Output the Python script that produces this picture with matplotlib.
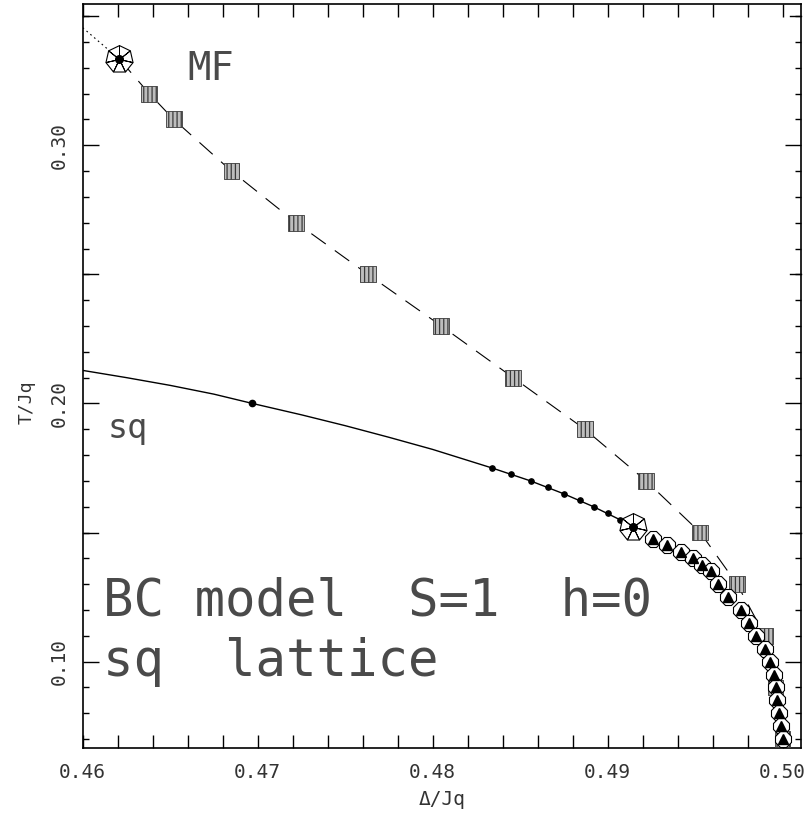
import numpy as np
from matplotlib import pyplot as plt
from matplotlib.ticker import MultipleLocator, FixedLocator

plt.rcParams['font.family'] = ['DejaVu Sans Mono', 'DejaVu Sans']
plt.rcParams['hatch.linewidth'] = 0.9

# MF first-order points (hatched squares)
mf_T = [0.32, 0.31, 0.29, 0.27, 0.25, 0.23, 0.21, 0.19, 0.17, 0.15, 0.13, 0.11, 0.09, 0.07]
mf_D = [0.4638, 0.4652, 0.4685, 0.4722, 0.4763, 0.4805, 0.4846, 0.4887, 0.4922, 0.4953, 0.4974, 0.4990, 0.4996, 0.5000]

# MF tricritical point and second-order piece
mf_tcp = (0.4621, 0.3333)
mf_2nd_D = [0.4600, 0.4621]
mf_2nd_T = [0.3455, 0.3333]

# sq lattice second-order line and dots
sq_line_D = [0.4600, 0.4625, 0.4650, 0.4675, 0.4697, 0.4725, 0.4750, 0.4775, 0.4800, 0.4834,
             0.4856, 0.4875, 0.4892, 0.4907, 0.49145]
sq_line_T = [0.2128, 0.2100, 0.2070, 0.2036, 0.2000, 0.1956, 0.1914, 0.1869, 0.1822, 0.1750,
             0.1700, 0.1650, 0.1600, 0.1550, 0.1523]
sq_dot_D = [0.4697, 0.4834, 0.4845, 0.4856, 0.4866, 0.4875, 0.4884, 0.4892, 0.4900, 0.4907]
sq_dot_T = [0.2000, 0.1750, 0.1725, 0.1700, 0.1675, 0.1650, 0.1625, 0.1600, 0.1575, 0.1550]

# sq lattice tricritical point
sq_tcp = (0.49145, 0.1523)

# sq lattice first-order points (octagons with triangles)
fo_T = [0.1475, 0.145, 0.1425, 0.14, 0.1375, 0.135, 0.13, 0.125, 0.12, 0.115, 0.11, 0.105,
        0.10, 0.095, 0.09, 0.085, 0.08, 0.075, 0.07]
fo_D = [0.4926, 0.4934, 0.4942, 0.4949, 0.4954, 0.4959, 0.4963, 0.4969, 0.4976, 0.4981, 0.4985,
        0.4990, 0.4993, 0.4995, 0.4996, 0.4997, 0.4998, 0.4999, 0.5000]

xmin, xmax = 0.46, 0.50107
ymin, ymax = 0.0667, 0.3547

fig = plt.figure(figsize=(8.11, 8.30), dpi=100)
ax = fig.add_axes([0.102, 0.0992, 0.886, 0.8960])

# MF lines
ax.plot(mf_2nd_D, mf_2nd_T, color='k', lw=0.8, ls=(0, (1.5, 3)))
ax.plot([mf_tcp[0]] + mf_D, [mf_tcp[1]] + mf_T, color='k', lw=0.8, ls=(0, (16, 10)))
ax.scatter(mf_D, mf_T, marker='s', s=130, facecolor='#bdbdbd', edgecolor='#3a3a3a',
           hatch='||||', linewidths=0.6, zorder=3)

# sq lines
ax.plot(sq_line_D, sq_line_T, color='k', lw=1.0)
ax.plot(sq_dot_D[:1], sq_dot_T[:1], 'o', color='k', ms=4.5)
ax.plot(sq_dot_D[1:], sq_dot_T[1:], 'o', color='k', ms=3.8)

# first order points
ax.plot(fo_D, fo_T, ls='none', marker='8', ms=13, mfc='white', mec='k', mew=0.8, zorder=4)
ax.plot(fo_D, fo_T, ls='none', marker='^', ms=7, color='k', zorder=5)

# tricritical points
for tcp in [mf_tcp, sq_tcp]:
    ax.plot(*tcp, marker=(7, 0, 0), ms=20, mfc='white', mec='k', mew=0.8, zorder=6)
    ax.plot(*tcp, marker=(7, 2, 0), ms=20, color='k', mew=0.7, zorder=7)
    ax.plot(*tcp, marker='o', ms=5.5, color='k', zorder=8)

ax.set_xlim(xmin, xmax)
ax.set_ylim(ymin, ymax)

ax.xaxis.set_major_locator(FixedLocator([0.46, 0.47, 0.48, 0.49, 0.50]))
ax.xaxis.set_minor_locator(MultipleLocator(0.002))
ax.yaxis.set_major_locator(FixedLocator([0.10, 0.20, 0.30]))
ax.yaxis.set_minor_locator(MultipleLocator(0.01))
ax.set_xticklabels(['0.46', '0.47', '0.48', '0.49', '0.50'])
ax.set_yticklabels(['0.10', '0.20', '0.30'], rotation=90, va='center')
# medium ticks at 0.15, 0.25, 0.35
for yv in [0.15, 0.25, 0.35]:
    ax.plot([xmin, xmin + 0.0009], [yv, yv], color='k', lw=1.0, clip_on=False)
    ax.plot([xmax - 0.00063, xmax], [yv, yv], color='k', lw=1.0, clip_on=False)

ax.tick_params(axis='x', which='both', direction='in', top=True, length=9.5, width=1.0,
               labelsize=14, pad=11, labelcolor='#333333')
ax.tick_params(axis='y', which='major', direction='in', right=True, length=11.5, width=1.0,
               labelsize=14, pad=10, labelcolor='#333333')
ax.tick_params(axis='y', which='minor', direction='in', right=True, length=4.5, width=1.0)
for sp in ax.spines.values():
    sp.set_linewidth(1.2)

ax.set_xlabel('Δ/Jq', fontsize=14, labelpad=6, color='#333333')
ax.set_ylabel('T/Jq', fontsize=13, color='#333333')
ax.yaxis.set_label_coords(-0.066, 0.464)

txt = dict(color='#4a4a4a', ha='left', va='baseline')
ax.text(0.4660, 0.3252, 'MF', fontsize=28, **txt)
ax.text(0.4614, 0.1868, 'sq', fontsize=24, **txt)
ax.text(0.46117, 0.1180, 'BC model  S=1  h=0', fontsize=36.5, **txt)
ax.text(0.46117, 0.0944, 'sq  lattice', fontsize=36.5, **txt)

fig.savefig('out.png', dpi=100)
